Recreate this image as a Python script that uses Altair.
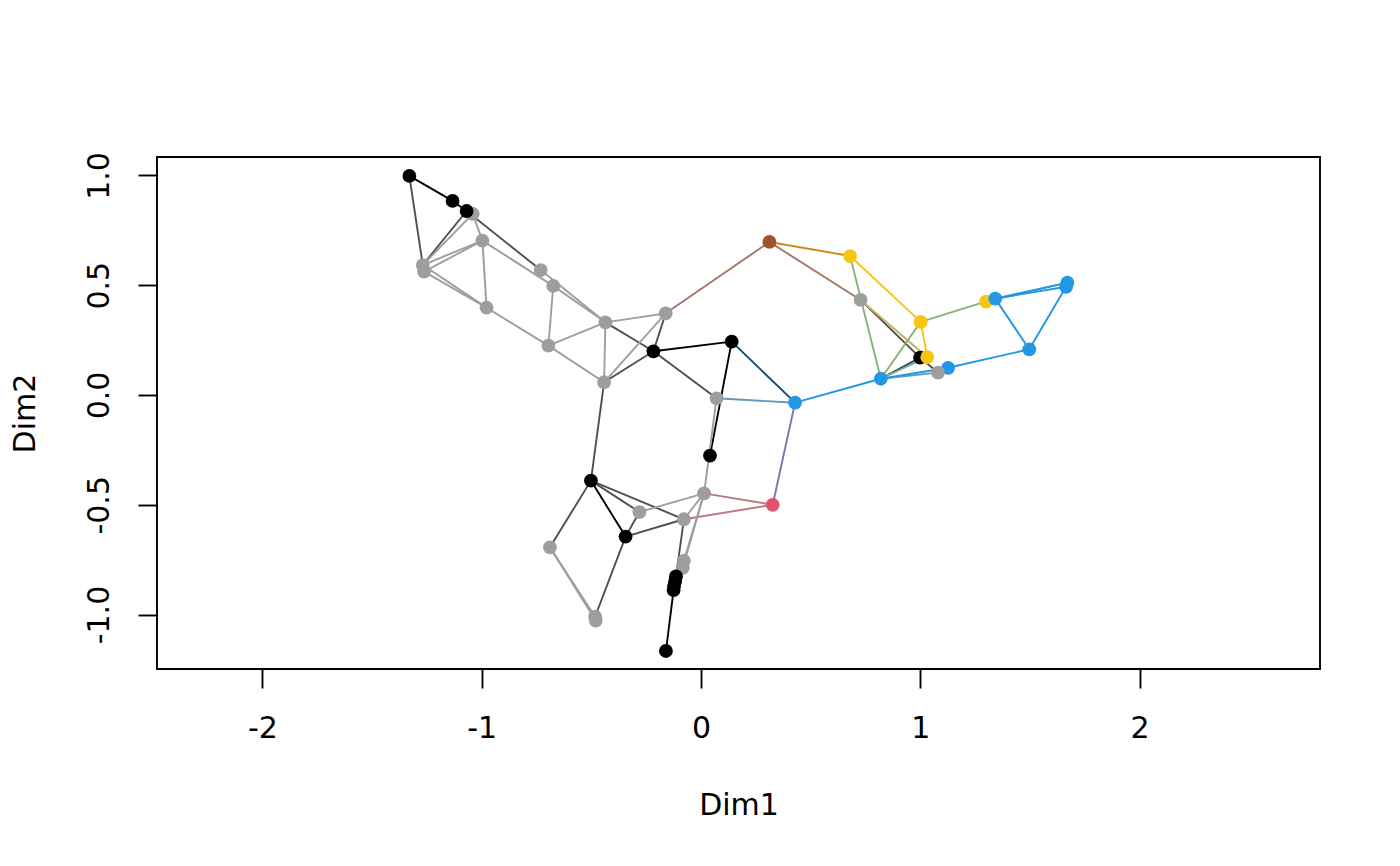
import altair as alt
import pandas as pd

# ---------------- data ----------------
node_id = ["A", "B", "D", "C", "E", "F1", "F2", "G", "H", "I", "J", "K", "L", "M", "N",
           "O", "P", "Q", "R", "S", "T", "U", "V", "W", "Y", "X", "Z", "AA", "AB", "AC",
           "AD1", "AD2", "AE", "AF", "AG", "AH", "AI", "AJ", "AK", "AL", "AM1", "AM2",
           "AN1", "AN2", "AN3", "AN4", "AO1", "AO2", "AP"]
node_x = [-1.330, -1.133, -1.041, -1.069, -0.997, -1.269, -1.263, -0.978, -0.731, -0.674,
          -0.696, -0.436, -0.161, -0.217, -0.442, 0.312, 0.140, 0.071, 0.429, 0.680,
          0.728, 1.002, 0.999, 1.032, 1.127, 1.081, 0.820, 1.300, 1.342, 1.497,
          1.671, 1.665, 0.041, -0.502, 0.014, 0.327, -0.281, -0.078, -0.344, -0.689,
          -0.078, -0.083, -0.114, -0.118, -0.123, -0.125, -0.483, -0.480, -0.160]
node_y = [0.998, 0.884, 0.825, 0.838, 0.703, 0.592, 0.562, 0.398, 0.569, 0.497,
          0.225, 0.331, 0.372, 0.199, 0.058, 0.697, 0.243, -0.015, -0.035, 0.633,
          0.433, 0.333, 0.170, 0.172, 0.124, 0.102, 0.074, 0.425, 0.439, 0.208,
          0.512, 0.493, -0.276, -0.390, -0.448, -0.500, -0.533, -0.566, -0.645, -0.694,
          -0.755, -0.787, -0.826, -0.848, -0.871, -0.889, -1.010, -1.028, -1.166]
node_group = ["black", "black", "gray", "black", "gray", "gray", "gray", "gray", "gray", "gray",
              "gray", "gray", "gray", "black", "gray", "brown", "black", "gray", "blue", "yellow",
              "gray", "yellow", "black", "yellow", "blue", "gray", "blue", "yellow", "blue", "blue",
              "blue", "blue", "black", "black", "gray", "red", "gray", "gray", "black", "gray",
              "gray", "gray", "black", "black", "black", "black", "gray", "gray", "black"]

edge_from = ["A", "B", "A", "C", "D", "D", "C", "F1", "F2", "E", "E", "F1", "F2", "G",
             "H", "I", "I", "J", "J", "K", "K", "K", "L", "L", "M", "M", "M", "L",
             "P", "P", "Q", "Q", "O", "O", "S", "S", "T", "T", "U", "U", "AA", "U", "Z",
             "Z", "Z", "Z", "V", "R", "R", "Y", "AC", "AC", "AB", "AB",
             "N", "AF", "AF", "AF", "AF", "AK", "AL", "AL", "AK", "AK", "AI", "AG", "AJ",
             "AG", "AG", "AG", "AJ", "AN1", "AN2", "AN3", "AN4"]
edge_to = ["B", "C", "F1", "F1", "F1", "E", "H", "E", "E", "G", "I", "G", "G", "J",
           "K", "K", "J", "K", "N", "L", "N", "M", "M", "N", "N", "P", "Q", "O",
           "R", "AE", "R", "AG", "S", "T", "U", "Z", "V", "W", "W", "Z", "AD1", "AB", "V",
           "W", "X", "Y", "X", "Z", "AH", "AC", "AB", "AD2", "AD1", "AD2",
           "AF", "AL", "AK", "AI", "AJ", "AO1", "AO1", "AO2", "AI", "AJ", "AG", "AH", "AH",
           "AJ", "AM1", "AM2", "AN1", "AN2", "AN3", "AN4", "AP"]

group_colors = {"black": "#000000", "gray": "#9E9E9E", "brown": "#A0522D",
                "yellow": "#F5C710", "blue": "#2297E6", "red": "#DF536B"}

x_ticks = [-2, -1, 0, 1, 2]
y_ticks = [-1.0, -0.5, 0.0, 0.5, 1.0]
x_domain = [-2.481, 2.823]
y_domain = [-1.248, 1.084]

# ---------------- build tables ----------------
nodes = pd.DataFrame({"id": node_id, "x": node_x, "y": node_y, "group": node_group})
nodes["col"] = nodes["group"].map(group_colors)
nodes["ord"] = range(len(nodes))
pos = nodes.set_index("id")


def mix(c1, c2):
    a = [int(c1[i:i + 2], 16) for i in (1, 3, 5)]
    b = [int(c2[i:i + 2], 16) for i in (1, 3, 5)]
    return "#" + "".join(f"{(p + q) // 2:02X}" for p, q in zip(a, b))


edges = pd.DataFrame({
    "x": [pos.loc[s, "x"] for s in edge_from],
    "y": [pos.loc[s, "y"] for s in edge_from],
    "x2": [pos.loc[t, "x"] for t in edge_to],
    "y2": [pos.loc[t, "y"] for t in edge_to],
    "col": [mix(pos.loc[s, "col"], pos.loc[t, "col"]) for s, t in zip(edge_from, edge_to)],
})

FONT = "DejaVu Sans"
LW = 1.9

x_axis = alt.Axis(values=x_ticks, grid=False, domain=False, tickColor="black",
                  tickWidth=LW, tickSize=19, labelFont=FONT, labelFontSize=30,
                  labelColor="black", labelPadding=40, labelBaseline="middle",
                  labelAlign="center", labelFlush=False,
                  labelExpr="datum.value < 0 ? '-' + format(-datum.value, 'd') : format(datum.value, 'd')",
                  title="Dim1", titleFont=FONT, titleFontSize=30, titleFontWeight="normal",
                  titleColor="black", titleY=136, titleX=581.5, titleBaseline="middle",
                  titleAlign="center")
y_axis = alt.Axis(values=y_ticks, grid=False, domain=False, tickColor="black",
                  tickWidth=LW, tickSize=19, labelFont=FONT, labelFontSize=30,
                  labelColor="black", labelPadding=39, labelAngle=270,
                  labelAlign="center", labelBaseline="middle", labelFlush=False,
                  labelExpr="datum.value < 0 ? '-' + format(-datum.value, '.1f') : format(datum.value, '.1f')",
                  title="Dim2", titleFont=FONT, titleFontSize=30, titleFontWeight="normal",
                  titleColor="black", titleX=-132, titleY=256, titleAngle=270,
                  titleBaseline="middle", titleAlign="center")

X = alt.X("x:Q", scale=alt.Scale(domain=x_domain, nice=False, zero=False), axis=x_axis)
Y = alt.Y("y:Q", scale=alt.Scale(domain=y_domain, nice=False, zero=False), axis=y_axis)

edge_layer = alt.Chart(edges).mark_rule(strokeWidth=LW).encode(
    x=X, y=Y, x2="x2:Q", y2="y2:Q",
    color=alt.Color("col:N", scale=None),
)

node_layer = alt.Chart(nodes).mark_circle(size=190, opacity=1).encode(
    x=X, y=Y,
    color=alt.Color("col:N", scale=None),
    order=alt.Order("ord:Q"),
)

chart = alt.layer(edge_layer, node_layer).properties(
    width=1163, height=512,
    autosize=alt.AutoSizeParams(type="none"),
    padding={"left": 149, "top": 149, "right": 64, "bottom": 180},
).configure(
    background="white",
    view=alt.ViewConfig(stroke="black", strokeWidth=LW),
)

chart.save("out.html", embed_options={"renderer": "svg", "actions": False})
